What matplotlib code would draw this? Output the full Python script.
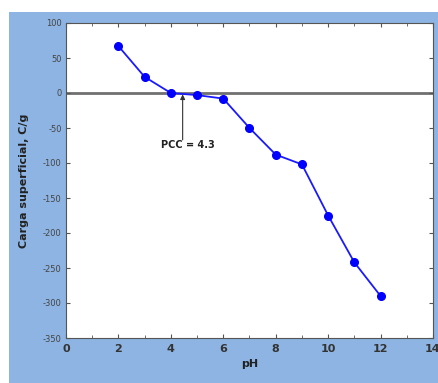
import matplotlib.pyplot as plt
from matplotlib.patches import Rectangle

plt.rcParams['axes.unicode_minus'] = False

# Datos: carga superficial vs pH
ph = [2, 3, 4, 5, 6, 7, 8, 9, 10, 11, 12]
carga = [67, 23, 0, -3, -8, -50, -88, -102, -175, -242, -290]
pcc = 4.3

fig = plt.figure(figsize=(4.38, 3.83), dpi=100)
fig.patch.set_facecolor('white')
# fondo azul detras de la grafica
fig.patches.append(Rectangle((9/438, 0), 1, 1 - 12/383, transform=fig.transFigure,
                             facecolor='#8db4e2', edgecolor='none', zorder=-1))

ax = fig.add_axes([66/438, 1 - 338/383, (433-66)/438, (338-23)/383])
ax.axhline(0, color='#707070', lw=2, zorder=1)
ax.plot(ph, carga, color='#1a1aff', lw=1.3, marker='o', ms=5.5,
        markerfacecolor='#0000ff', markeredgecolor='#0000ff', zorder=3)

# flecha vertical hacia el punto de carga cero
ax.annotate('', xy=(4.45, -2), xytext=(4.45, -67),
            arrowprops=dict(arrowstyle='-|>', color='#333333', lw=0.8,
                            mutation_scale=7, shrinkA=0, shrinkB=0))
ax.text(4.65, -75, 'PCC = 4.3', ha='center', va='center', fontsize=7,
        fontweight='bold', color='#222222')

ax.set_xlim(0, 14)
ax.set_ylim(-350, 100)
ax.set_xticks(range(0, 15, 2))
ax.set_xticks(range(0, 15), minor=True)
ax.set_yticks(range(-350, 101, 50))
ax.tick_params(which='both', direction='in', top=True, right=True, color='#555555')
ax.tick_params(which='major', length=3)
ax.tick_params(which='minor', length=2)
ax.tick_params(axis='y', labelsize=6, labelcolor='#444444', pad=3)
ax.tick_params(axis='x', labelsize=8, labelcolor='#333333', pad=4)
for lab in ax.get_xticklabels():
    lab.set_fontweight('bold')
for s in ax.spines.values():
    s.set_color('#555555')
    s.set_linewidth(0.8)

ax.set_xlabel('pH', fontsize=8, fontweight='bold', color='#222222', labelpad=4)
ax.set_ylabel('Carga superficial, C/g', fontsize=8, fontweight='bold', color='#222222', labelpad=10)

fig.savefig('out.png', dpi=100, facecolor=fig.get_facecolor())
